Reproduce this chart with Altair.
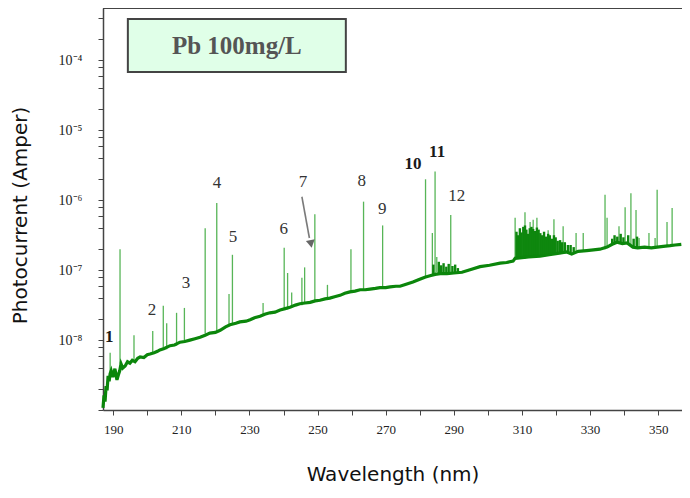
import altair as alt
import pandas as pd

# ---------------- data (wavelength in nm, log10 of photocurrent in A) ----------------
X_DOMAIN = [187, 357]
Y_DOMAIN_EXP = [-9, -3.25]

BASE_WL = [187.0, 187.3, 187.6, 187.9, 188.2, 188.5, 188.8, 189.1, 189.4, 189.9,
           190.5, 191.1, 191.5, 191.9, 192.3, 192.8, 193.5, 194.2, 194.9, 195.6,
           196.4, 197.2, 197.9, 199.0, 200.0, 200.8, 202.0, 203.0, 203.7, 205.0,
           206.7, 208.0, 209.6, 211.0, 212.5, 214.0, 215.5, 217.0, 218.4, 220.0,
           221.4, 223.0, 224.3, 226.0, 227.2, 229.0, 230.2, 231.5, 233.1, 234.5,
           236.0, 237.5, 239.0, 240.5, 241.9, 243.5, 244.8, 246.3, 247.8, 249.3,
           250.7, 252.2, 253.6, 255.0, 256.6, 258.0, 259.5, 261.0, 262.5, 264.0,
           265.4, 267.0, 268.3, 270.0, 271.3, 273.0, 274.2, 276.0, 278.0, 280.0,
           281.5, 283.0, 284.5, 286.0, 288.0, 290.0, 292.4, 295.0, 297.7, 300.5,
           303.6, 305.5, 307.4, 308.0, 310.0, 312.0, 315.3, 318.0, 320.5, 323.2,
           324.6, 326.5, 329.0, 331.0, 332.9, 335.0, 336.5, 337.9, 339.5, 340.9,
           342.6, 344.0, 346.0, 348.0, 349.7, 351.5, 353.5, 355.0, 356.8]
BASE_LOG = [-8.97, -8.79, -8.88, -8.66, -8.72, -8.51, -8.59, -8.48, -8.44, -8.53,
            -8.41, -8.57, -8.50, -8.44, -8.34, -8.40, -8.37, -8.31, -8.33, -8.29,
            -8.31, -8.26, -8.24, -8.25, -8.21, -8.20, -8.18, -8.16, -8.14, -8.12,
            -8.08, -8.07, -8.03, -8.02, -8.00, -7.98, -7.96, -7.93, -7.90, -7.89,
            -7.86, -7.81, -7.78, -7.76, -7.74, -7.73, -7.71, -7.68, -7.66, -7.63,
            -7.61, -7.60, -7.57, -7.55, -7.53, -7.50, -7.48, -7.47, -7.46, -7.44,
            -7.43, -7.41, -7.40, -7.38, -7.36, -7.33, -7.31, -7.30, -7.28, -7.28,
            -7.27, -7.26, -7.25, -7.25, -7.24, -7.23, -7.23, -7.20, -7.17, -7.13,
            -7.10, -7.08, -7.06, -7.05, -7.05, -7.04, -7.03, -6.99, -6.95, -6.93,
            -6.90, -6.89, -6.87, -6.83, -6.82, -6.81, -6.80, -6.78, -6.76, -6.74,
            -6.77, -6.73, -6.72, -6.71, -6.70, -6.67, -6.63, -6.60, -6.62, -6.61,
            -6.67, -6.68, -6.67, -6.68, -6.67, -6.66, -6.65, -6.64, -6.63]

# emission lines: wavelength, top and foot of each spike
PEAK_WL = [189.1, 192.0, 196.1, 201.6, 204.7, 205.7, 208.6, 210.9, 217.0, 220.4,
           224.0, 225.0, 234.0, 240.2, 241.2, 242.4, 245.4, 246.2, 249.2, 252.9,
           259.8, 263.5, 269.1, 281.7, 283.7, 284.5, 285.0, 289.1, 308.0, 310.9,
           312.4, 313.3, 314.4, 317.7, 319.4, 322.1, 325.9, 328.0, 334.4, 335.0,
           338.5, 340.3, 342.0, 343.5, 344.4, 347.3, 349.1, 349.7, 352.6, 354.1]
PEAK_TOP = [-8.18, -6.70, -7.93, -7.87, -7.51, -7.76, -7.61, -7.54, -6.40, -6.04,
            -7.34, -6.78, -7.47, -6.68, -7.04, -7.32, -7.11, -6.96, -6.20, -7.21,
            -6.70, -6.02, -6.36, -5.70, -6.47, -5.59, -6.81, -6.21, -6.25, -6.17,
            -6.31, -6.28, -6.25, -6.43, -6.27, -6.37, -6.47, -6.47, -5.92, -6.25,
            -6.37, -6.10, -5.90, -6.14, -6.54, -6.47, -6.54, -5.85, -6.31, -6.11]
PEAK_BASE = [-8.46, -8.34, -8.28, -8.20, -8.14, -8.13, -8.08, -8.04, -7.91, -7.87,
             -7.79, -7.78, -7.64, -7.57, -7.56, -7.54, -7.50, -7.48, -7.44, -7.40,
             -7.31, -7.28, -7.25, -7.10, -7.07, -7.05, -7.03, -7.03, -6.85, -6.83,
             -6.81, -6.81, -6.80, -6.78, -6.77, -6.75, -6.74, -6.73, -6.70, -6.68,
             -6.61, -6.60, -6.63, -6.65, -6.67, -6.67, -6.67, -6.67, -6.65, -6.64]

# dense noisy structure (short spikes)
NOISE_WL = [284.0, 285.6, 286.3, 287.0, 287.8, 288.5, 289.6, 290.4, 291.2,
            308.4, 308.9, 309.4, 309.9, 310.4, 310.9, 311.3, 311.8, 312.3, 312.8,
            313.3, 313.8, 314.4, 314.9, 315.4, 315.9, 316.5, 317.1, 317.7, 318.2,
            318.8, 319.4, 319.9, 320.5, 321.2, 321.8, 322.6, 323.5, 324.3, 325.2,
            336.5, 337.2, 338.0, 339.0, 339.8, 341.2, 342.8, 343.8]
NOISE_TOP = [-6.92, -6.88, -6.93, -6.90, -6.95, -6.91, -6.94, -6.92, -6.97,
             -6.45, -6.50, -6.40, -6.46, -6.38, -6.36, -6.42, -6.48, -6.40, -6.38,
             -6.41, -6.44, -6.39, -6.42, -6.47, -6.50, -6.45, -6.52, -6.48, -6.50,
             -6.55, -6.50, -6.53, -6.58, -6.57, -6.60, -6.60, -6.64, -6.64, -6.67,
             -6.55, -6.50, -6.52, -6.48, -6.53, -6.50, -6.55, -6.52]
NOISE_BASE = [-7.06, -7.05, -7.05, -7.05, -7.05, -7.05, -7.04, -7.04, -7.04,
              -6.84, -6.84, -6.83, -6.83, -6.83, -6.83, -6.82, -6.82, -6.82, -6.82,
              -6.81, -6.81, -6.81, -6.81, -6.80, -6.80, -6.80, -6.79, -6.79, -6.79,
              -6.78, -6.78, -6.78, -6.77, -6.77, -6.76, -6.76, -6.76, -6.77, -6.76,
              -6.64, -6.62, -6.61, -6.61, -6.62, -6.62, -6.66, -6.67]

LABEL_TEXT = ["1", "2", "3", "4", "5", "6", "7", "8", "9", "10", "11", "12"]
LABEL_WL = [188.8, 201.4, 211.4, 220.5, 225.2, 240.1, 245.7, 263.0, 269.0, 278.0, 285.1, 290.9]
LABEL_LOG = [-7.96, -7.57, -7.18, -5.75, -6.53, -6.41, -5.74, -5.72, -6.12, -5.48, -5.31, -5.94]
LABEL_BOLD = [True, False, False, False, False, False, False, False, False, True, True, False]

ARROW_WL = [245.4, 247.6]
ARROW_LOG = [-5.95, -6.54]
ARROW_HEAD_WL = [248.07]
ARROW_HEAD_LOG = [-6.625]

BOX_WL = [194.3, 258.3]
BOX_LOG = [-4.165, -3.407]
BOX_TEXT = ["Pb 100mg/L"]
BOX_TEXT_WL = [226.3]
BOX_TEXT_LOG = [-3.80]

X_TICKS = [190, 200, 210, 220, 230, 240, 250, 260, 270, 280, 290, 300, 310, 320, 330, 340, 350]
X_LABELED = [190, 210, 230, 250, 270, 290, 310, 330, 350]
Y_MAJOR_EXP = [-8, -7, -6, -5, -4]
Y_MAJOR_LABELS = ["10⁻⁸", "10⁻⁷", "10⁻⁶", "10⁻⁵", "10⁻⁴"]
Y_MINOR_MULT = [2, 4, 6, 8]

# ---------------- build tables ----------------
def amps(vals):
    return [10.0 ** v for v in vals]

base_df = pd.DataFrame({"wl": BASE_WL, "v": amps(BASE_LOG)})
peak_df = pd.DataFrame({"wl": PEAK_WL, "v": amps(PEAK_TOP), "v2": amps(PEAK_BASE)})
noise_df = pd.DataFrame({"wl": NOISE_WL, "v": amps(NOISE_TOP), "v2": amps(NOISE_BASE)})
lab_df = pd.DataFrame({"wl": LABEL_WL, "v": amps(LABEL_LOG), "t": LABEL_TEXT, "b": LABEL_BOLD})
arrow_df = pd.DataFrame({"wl": ARROW_WL, "v": amps(ARROW_LOG)})
head_df = pd.DataFrame({"wl": ARROW_HEAD_WL, "v": amps(ARROW_HEAD_LOG)})
box_df = pd.DataFrame({"wl": [BOX_WL[0]], "wl2": [BOX_WL[1]],
                       "v": [10.0 ** BOX_LOG[0]], "v2": [10.0 ** BOX_LOG[1]]})
boxt_df = pd.DataFrame({"wl": BOX_TEXT_WL, "v": amps(BOX_TEXT_LOG), "t": BOX_TEXT})

y_ticks = []
for e in range(Y_DOMAIN_EXP[0], 0):
    for m in [1] + Y_MINOR_MULT:
        val = m * 10.0 ** e
        if 10.0 ** Y_DOMAIN_EXP[0] <= val <= 10.0 ** Y_DOMAIN_EXP[1]:
            y_ticks.append(val)

y_label_expr = " : ".join(
    f"abs(datum.value - {10.0 ** e:g}) < {0.01 * 10.0 ** e:g} ? '{lab}'"
    for e, lab in zip(Y_MAJOR_EXP, Y_MAJOR_LABELS)) + " : ''"
x_label_expr = "indexof([" + ",".join(str(v) for v in X_LABELED) + "], datum.value) >= 0 ? datum.label : ''"

W, H = 579, 402

x_axis = alt.Axis(title="Wavelength (nm)", values=X_TICKS, labelExpr=x_label_expr,
                  labelOverlap=False, grid=False, tickSize=5, labelPadding=8,
                  labelFont="Liberation Serif", labelFontSize=13, labelColor="#222",
                  titleFont="DejaVu Sans", titleFontSize=20, titleFontWeight="normal",
                  titleColor="#111", titleX=W / 2, titleY=64, titleBaseline="middle",
                  domainColor="#444", tickColor="#444", domainWidth=1.5)
y_axis = alt.Axis(title="Photocurrent (Amper)", values=y_ticks, labelExpr=y_label_expr,
                  labelOverlap=False, grid=False, tickSize=5, labelPadding=16,
                  labelFont="Liberation Serif", labelFontSize=14, labelColor="#222",
                  titleFont="DejaVu Sans", titleFontSize=20, titleFontWeight="normal",
                  titleColor="#111", titleX=-83, titleY=207, titleAngle=-90,
                  titleAlign="center", titleBaseline="middle",
                  domainColor="#444", tickColor="#444", domainWidth=1.5)

xs = alt.Scale(domain=X_DOMAIN, nice=False, zero=False)
ys = alt.Scale(type="log", domain=[10.0 ** Y_DOMAIN_EXP[0], 10.0 ** Y_DOMAIN_EXP[1]], nice=False)

X = alt.X("wl:Q", scale=xs, axis=x_axis)
Y = alt.Y("v:Q", scale=ys, axis=y_axis)

peaks = alt.Chart(peak_df).mark_rule(color="#3aa83a", strokeWidth=1.3, opacity=0.85).encode(
    x=X, y=Y, y2="v2:Q")
noise = alt.Chart(noise_df).mark_rule(color="#0e870e", strokeWidth=2.4).encode(
    x=X, y=Y, y2="v2:Q")
base = alt.Chart(base_df).mark_line(color="#0b860b", strokeWidth=3.2).encode(x=X, y=Y)

labels_bold = alt.Chart(lab_df[lab_df["b"]]).mark_text(
    font="Liberation Serif", fontSize=17, fontWeight="bold", color="#1a1a1a").encode(
    x=X, y=Y, text="t:N")
labels_reg = alt.Chart(lab_df[~lab_df["b"]]).mark_text(
    font="Liberation Serif", fontSize=17, color="#333333").encode(
    x=X, y=Y, text="t:N")

arrow = alt.Chart(arrow_df).mark_line(color="#7a7a7a", strokeWidth=1.6).encode(x=X, y=Y)
head = alt.Chart(head_df).mark_point(shape="triangle-down", filled=True, size=80,
                                      color="#666666", opacity=1, angle=350).encode(x=X, y=Y)

box = alt.Chart(box_df).mark_rect(fill="#e0ffe8", stroke="#444444", strokeWidth=2).encode(
    x=X, x2="wl2:Q", y=Y, y2="v2:Q")
box_text = alt.Chart(boxt_df).mark_text(font="Liberation Serif", fontSize=25,
                                         fontWeight="bold", color="#555555").encode(
    x=X, y=Y, text="t:N")

top_border = alt.Chart(base_df).mark_rule(color="#444444", strokeWidth=1.5).encode(
    x=alt.value(0), x2=alt.value(W), y=alt.value(0))

chart = alt.layer(peaks, noise, base, arrow, head, labels_bold, labels_reg,
                  box, box_text, top_border).properties(
    width=W, height=H,
    autosize=alt.AutoSizeParams(type="none"),
    padding={"left": 95, "top": 0, "right": 0, "bottom": 82},
).configure_view(fill="#ccffff", stroke=None).configure(background="white")

chart.save("out.html", embed_options={"renderer": "svg", "actions": False})
